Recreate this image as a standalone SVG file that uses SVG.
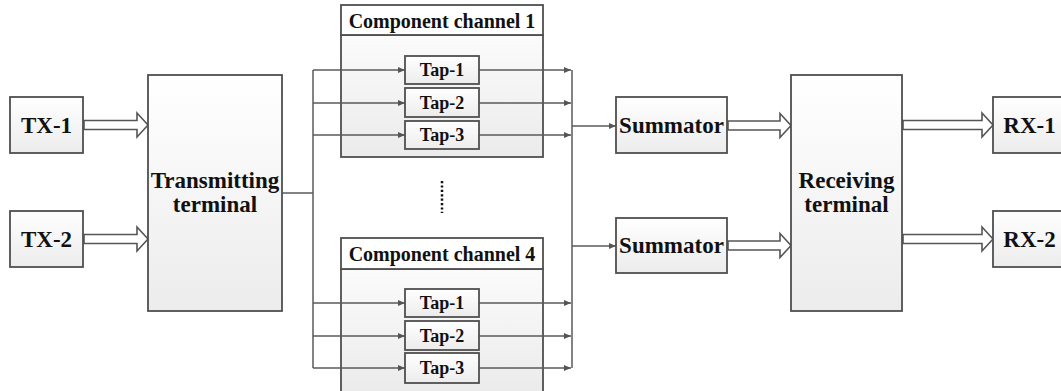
<svg xmlns="http://www.w3.org/2000/svg" width="1061" height="391" viewBox="0 0 1061 391">
<style>
.box{stroke:#4f4f4f;stroke-width:1.8;fill:url(#g)}
.band{stroke:#4f4f4f;stroke-width:1.8;fill:#ffffff}
.body{stroke:#4f4f4f;stroke-width:1.8;fill:url(#g2)}
.tap{stroke:#4f4f4f;stroke-width:1.8;fill:url(#g)}
.hol{fill:#ffffff;stroke:#555;stroke-width:1.6;stroke-linejoin:miter}
.ln{fill:none;stroke:#5a5a5a;stroke-width:1.5}
.t{font-family:"Liberation Serif","Times New Roman",serif;font-weight:bold;fill:#111;text-anchor:middle}
.big{font-size:23px}
.mid{font-size:20px}
.sm{font-size:18px}
</style>
<defs>
<linearGradient id="g" x1="0" y1="0" x2="0" y2="1">
<stop offset="0" stop-color="#ffffff"/><stop offset="1" stop-color="#ececec"/>
</linearGradient>
<linearGradient id="g2" x1="0" y1="0" x2="0" y2="1">
<stop offset="0" stop-color="#fbfbfb"/><stop offset="1" stop-color="#ebebeb"/>
</linearGradient>
<marker id="ah" markerWidth="8" markerHeight="6" refX="7" refY="3" orient="auto" markerUnits="userSpaceOnUse">
<path d="M0,0 L7,3 L0,6 Z" fill="#555"/>
</marker>
</defs>

<g id="channel1">
<rect class="body" x="341" y="35" width="202" height="122"/>
<rect class="band" x="341" y="5" width="202" height="30"/>
<text class="t mid" x="442" y="28">Component channel 1</text>
</g>
<g id="channel4">
<rect class="body" x="341" y="269" width="202" height="125"/>
<rect class="band" x="341" y="238" width="202" height="31"/>
<text class="t mid" x="442" y="261">Component channel 4</text>
</g>

<g id="connectors">
<path class="ln" d="M282,193 H313"/>
<path class="ln" d="M313,70 V368"/>
<path class="ln" d="M313,70 H405" marker-end="url(#ah)"/>
<path class="ln" d="M313,103 H405" marker-end="url(#ah)"/>
<path class="ln" d="M313,135 H405" marker-end="url(#ah)"/>
<path class="ln" d="M313,303 H405" marker-end="url(#ah)"/>
<path class="ln" d="M313,336 H405" marker-end="url(#ah)"/>
<path class="ln" d="M313,368 H405" marker-end="url(#ah)"/>
<path class="ln" d="M479,70 H571" marker-end="url(#ah)"/>
<path class="ln" d="M479,103 H571" marker-end="url(#ah)"/>
<path class="ln" d="M479,135 H571" marker-end="url(#ah)"/>
<path class="ln" d="M479,303 H571" marker-end="url(#ah)"/>
<path class="ln" d="M479,336 H571" marker-end="url(#ah)"/>
<path class="ln" d="M479,368 H571" marker-end="url(#ah)"/>
<path class="ln" d="M572,70 V368"/>
<path class="ln" d="M572,126 H616" marker-end="url(#ah)"/>
<path class="ln" d="M572,246 H616" marker-end="url(#ah)"/>
<path class="hol" d="M84,120.5 H137 V113 L148,125 L137,137 V129.5 H84 Z"/>
<path class="hol" d="M84,234.5 H137 V227 L148,239 L137,251 V243.5 H84 Z"/>
<path class="hol" d="M728,121 H780 V113.5 L791,125.5 L780,137.5 V130 H728 Z"/>
<path class="hol" d="M728,241 H780 V233.5 L791,245.5 L780,257.5 V250 H728 Z"/>
<path class="hol" d="M903,120.5 H982 V113 L993,125 L982,137 V129.5 H903 Z"/>
<path class="hol" d="M903,234.5 H982 V227 L993,239 L982,251 V243.5 H903 Z"/>
</g>

<g id="tx1"><rect class="box" x="10" y="97" width="73" height="56"/><text class="t big" x="46.5" y="133">TX-1</text></g>
<g id="tx2"><rect class="box" x="10" y="211" width="73" height="56"/><text class="t big" x="46.5" y="247">TX-2</text></g>
<g id="transmitting"><rect class="box" x="148" y="75" width="134" height="236"/><text class="t big" x="215" y="188">Transmitting</text><text class="t big" x="215" y="212">terminal</text></g>

<g id="c1tap1"><rect class="tap" x="405" y="56" width="74" height="28"/><text class="t sm" x="442" y="76">Tap-1</text></g>
<g id="c1tap2"><rect class="tap" x="405" y="88" width="74" height="29"/><text class="t sm" x="442" y="109">Tap-2</text></g>
<g id="c1tap3"><rect class="tap" x="405" y="121" width="74" height="28"/><text class="t sm" x="442" y="141">Tap-3</text></g>

<g id="dots"><path d="M442,181 V213" stroke="#111" stroke-width="2.5" stroke-dasharray="2.2 2.2" fill="none"/></g>

<g id="c4tap1"><rect class="tap" x="405" y="289" width="74" height="28"/><text class="t sm" x="442" y="309">Tap-1</text></g>
<g id="c4tap2"><rect class="tap" x="405" y="321" width="74" height="29"/><text class="t sm" x="442" y="342">Tap-2</text></g>
<g id="c4tap3"><rect class="tap" x="405" y="353" width="74" height="30"/><text class="t sm" x="442" y="374">Tap-3</text></g>

<g id="summator1"><rect class="box" x="616" y="97" width="111" height="56"/><text class="t big" x="671.5" y="133">Summator</text></g>
<g id="summator2"><rect class="box" x="616" y="218" width="111" height="55"/><text class="t big" x="671.5" y="253">Summator</text></g>
<g id="receiving"><rect class="box" x="791" y="75" width="111" height="236"/><text class="t big" x="846.5" y="188">Receiving</text><text class="t big" x="846.5" y="212">terminal</text></g>
<g id="rx1"><rect class="box" x="993" y="97" width="74" height="56"/><text class="t big" x="1029.5" y="133">RX-1</text></g>
<g id="rx2"><rect class="box" x="993" y="211" width="74" height="56"/><text class="t big" x="1029.5" y="247">RX-2</text></g>
</svg>
